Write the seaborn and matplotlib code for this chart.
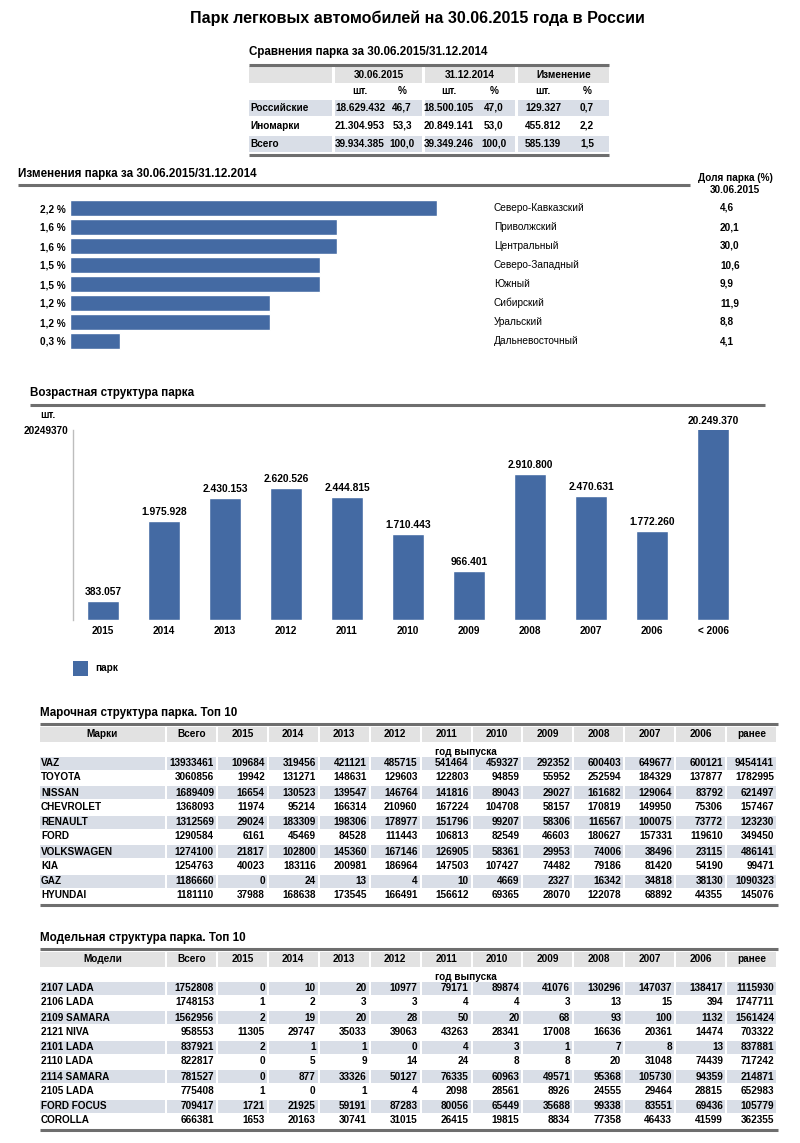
import matplotlib
matplotlib.use("Agg")
import matplotlib.pyplot as plt
import matplotlib.transforms as mtransforms
from matplotlib.patches import Rectangle
import pandas as pd
import seaborn as sns

# сравнение парка 30.06.2015 / 31.12.2014
cmp_rows = ["Российские", "Иномарки", "Всего"]
cmp_2015_cnt = [18629432, 21304953, 39934385]
cmp_2015_pct = [46.7, 53.3, 100.0]
cmp_2014_cnt = [18500105, 20849141, 39349246]
cmp_2014_pct = [47.0, 53.0, 100.0]
cmp_diff_cnt = [129327, 455812, 585139]
cmp_diff_pct = [0.7, 2.2, 1.5]

# изменения по округам
regions = ["Северо-Кавказский", "Приволжский", "Центральный", "Северо-Западный",
           "Южный", "Сибирский", "Уральский", "Дальневосточный"]
region_change = [2.2, 1.6, 1.6, 1.5, 1.5, 1.2, 1.2, 0.3]
region_share = [4.6, 20.1, 30.0, 10.6, 9.9, 11.9, 8.8, 4.1]

# возрастная структура
age_labels = ["2015", "2014", "2013", "2012", "2011", "2010", "2009",
              "2008", "2007", "2006", "< 2006"]
age_values = [383057, 1975928, 2430153, 2620526, 2444815, 1710443, 966401,
              2910800, 2470631, 1772260, 20249370]

table_cols = ["Всего", "2015", "2014", "2013", "2012", "2011", "2010",
              "2009", "2008", "2007", "2006", "ранее"]

brands = ["VAZ", "TOYOTA", "NISSAN", "CHEVROLET", "RENAULT", "FORD",
          "VOLKSWAGEN", "KIA", "GAZ", "HYUNDAI"]
brand_vals = [
    [13933461, 109684, 319456, 421121, 485715, 541464, 459327, 292352, 600403, 649677, 600121, 9454141],
    [3060856, 19942, 131271, 148631, 129603, 122803, 94859, 55952, 252594, 184329, 137877, 1782995],
    [1689409, 16654, 130523, 139547, 146764, 141816, 89043, 29027, 161682, 129064, 83792, 621497],
    [1368093, 11974, 95214, 166314, 210960, 167224, 104708, 58157, 170819, 149950, 75306, 157467],
    [1312569, 29024, 183309, 198306, 178977, 151796, 99207, 58306, 116567, 100075, 73772, 123230],
    [1290584, 6161, 45469, 84528, 111443, 106813, 82549, 46603, 180627, 157331, 119610, 349450],
    [1274100, 21817, 102800, 145360, 167146, 126905, 58361, 29953, 74006, 38496, 23115, 486141],
    [1254763, 40023, 183116, 200981, 186964, 147503, 107427, 74482, 79186, 81420, 54190, 99471],
    [1186660, 0, 24, 13, 4, 10, 4669, 2327, 16342, 34818, 38130, 1090323],
    [1181110, 37988, 168638, 173545, 166491, 156612, 69365, 28070, 122078, 68892, 44355, 145076],
]

models = ["2107 LADA", "2106 LADA", "2109 SAMARA", "2121 NIVA", "2101 LADA",
          "2110 LADA", "2114 SAMARA", "2105 LADA", "FORD FOCUS", "COROLLA"]
model_vals = [
    [1752808, 0, 10, 20, 10977, 79171, 89874, 41076, 130296, 147037, 138417, 1115930],
    [1748153, 1, 2, 3, 3, 4, 4, 3, 13, 15, 394, 1747711],
    [1562956, 2, 19, 20, 28, 50, 20, 68, 93, 100, 1132, 1561424],
    [958553, 11305, 29747, 35033, 39063, 43263, 28341, 17008, 16636, 20361, 14474, 703322],
    [837921, 2, 1, 1, 0, 4, 3, 1, 7, 8, 13, 837881],
    [822817, 0, 5, 9, 14, 24, 8, 8, 20, 31048, 74439, 717242],
    [781527, 0, 877, 33326, 50127, 76335, 60963, 49571, 95368, 105730, 94359, 214871],
    [775408, 1, 0, 1, 4, 2098, 28561, 8926, 24555, 29464, 28815, 652983],
    [709417, 1721, 21925, 59191, 87283, 80056, 65449, 35688, 99338, 83551, 69436, 105779],
    [666381, 1653, 20163, 30741, 31015, 26415, 19815, 8834, 77358, 46433, 41599, 362355],
]

BLUE = "#446aa3"
LINE = "#6e6e6e"
ROW_BG = "#d9dee7"
HEAD_BG = "#e2e2e2"
W, H = 800, 1143
SEC = 8.4  # размер заголовков разделов


def dots(v):
    return f"{v:,}".replace(",", ".")


def comma(v):
    return f"{v:.1f}".replace(".", ",")


sns.set_style("white")
plt.rcParams["font.family"] = ["Liberation Sans", "DejaVu Sans"]
plt.rcParams["text.color"] = "black"
plt.rcParams["xtick.color"] = "black"
plt.rcParams["ytick.color"] = "black"

fig = plt.figure(figsize=(W / 100, H / 100), dpi=100)
ov = fig.add_axes([0, 0, 1, 1])
ov.set_xlim(0, W)
ov.set_ylim(H, 0)
ov.axis("off")


def hline(x0, x1, y, lw=2.0, color=LINE):
    ov.plot([x0, x1], [y, y], color=color, lw=lw, solid_capstyle="butt")


def txt(x, y, s, size=7.2, weight="bold", ha="left", **kw):
    ov.text(x, y, s, fontsize=size, fontweight=weight, ha=ha, va="center", **kw)


# заголовок
txt(417, 18, "Парк легковых автомобилей на 30.06.2015 года в России", size=11.6, ha="center")

# таблица сравнения
txt(249, 52, "Сравнения парка за 30.06.2015/31.12.2014", size=SEC)
hline(249, 609, 64.5, lw=2.2)
cells = [(249, 332), (335, 422), (425, 515), (518, 609)]
for (x0, x1), lab in zip(cells, ["", "30.06.2015", "31.12.2014", "Изменение"]):
    ov.add_patch(Rectangle((x0, 66), x1 - x0, 17, color=HEAD_BG, lw=0))
    txt((x0 + x1) / 2, 74.5, lab, ha="center")
sub_x = [360, 402, 449, 494, 543, 587]
for x, lab in zip(sub_x, ["шт.", "%"] * 3):
    txt(x, 91, lab, ha="center")
row_y = [108, 126, 144]
for i, name in enumerate(cmp_rows):
    if i != 1:
        for x0, x1 in cells:
            ov.add_patch(Rectangle((x0, row_y[i] - 8), x1 - x0, 16, color=ROW_BG, lw=0))
    txt(250, row_y[i], name)
    vals = [dots(cmp_2015_cnt[i]), comma(cmp_2015_pct[i]), dots(cmp_2014_cnt[i]),
            comma(cmp_2014_pct[i]), dots(cmp_diff_cnt[i]), comma(cmp_diff_pct[i])]
    for x, s in zip(sub_x, vals):
        txt(x, row_y[i], s, ha="center")
hline(249, 609, 154.5, lw=2.2)

# изменения парка по округам
txt(18, 174, "Изменения парка за 30.06.2015/31.12.2014", size=SEC)
hline(18, 690, 184.5, lw=2.2)
txt(735, 178, "Доля парка (%)", ha="center")
txt(735, 190, "30.06.2015", ha="center")

ax1 = fig.add_axes([70 / W, 1 - 350.5 / H, 417 / W, 152 / H])
ax1.patch.set_alpha(0)
reg_df = pd.DataFrame({"region": regions, "change": region_change})
sns.barplot(data=reg_df, x="change", y="region", orient="h", color=BLUE,
            saturation=1, width=0.88, ax=ax1)
ax1.set_xlim(0, 2.5)
ax1.set_ylim(7.5, -0.5)
ax1.set_yticks(range(len(regions)))
ax1.set_yticklabels([comma(v) + " %" for v in region_change], fontsize=7.2, fontweight="bold")
ax1.tick_params(axis="y", length=0, pad=3)
ax1.set_xticks([])
ax1.set_xlabel("")
ax1.set_ylabel("")
sns.despine(ax=ax1, left=True, bottom=True)
tr = mtransforms.blended_transform_factory(ov.transData, ax1.transData)
for i, (name, share) in enumerate(zip(regions, region_share)):
    ax1.text(494, i, name, transform=tr, fontsize=7.3, va="center", clip_on=False)
    ax1.text(720, i, comma(share), transform=tr, fontsize=7.2, fontweight="bold",
             va="center", clip_on=False)

# возрастная структура
txt(30, 393, "Возрастная структура парка", size=SEC)
hline(30, 765, 404.5, lw=2.2)
txt(40, 415, "шт.")

ax2 = fig.add_axes([72.5 / W, 1 - 620 / H, 671 / W, 190 / H])
ax2.patch.set_alpha(0)
age_df = pd.DataFrame({"year": age_labels, "count": age_values})
sns.barplot(data=age_df, x="year", y="count", color=BLUE, saturation=1,
            width=0.54, ax=ax2)
ytop = 3.78e6
ax2.set_ylim(0, ytop)
ax2.set_xlim(-0.5, len(age_labels) - 0.5)
ax2.set_yticks([ytop])
ax2.set_yticklabels([str(max(age_values))], fontsize=7.2, fontweight="bold")
ax2.set_xticks(range(len(age_labels)))
ax2.set_xticklabels(age_labels, fontsize=7.2, fontweight="bold")
ax2.tick_params(length=0)
ax2.tick_params(axis="y", pad=3)
ax2.tick_params(axis="x", pad=4)
ax2.set_xlabel("")
ax2.set_ylabel("")
sns.despine(ax=ax2, bottom=True)
ax2.spines["left"].set_color("#bdbdbd")
ax2.spines["left"].set_linewidth(1)
for p, v in zip(ax2.patches, age_values):
    ax2.annotate(dots(v), (p.get_x() + p.get_width() / 2, min(v, ytop)),
                 xytext=(0, 3), textcoords="offset points", ha="center", va="bottom",
                 fontsize=7.4, fontweight="bold", annotation_clip=False)

ov.add_patch(Rectangle((73, 661), 15, 15, color=BLUE, lw=0))
txt(95, 668, "парк")

# таблицы марок и моделей
COLW = (778 - 167) / 12
edges = [(40, 165)] + [(167 + i * COLW, 167 + (i + 1) * COLW - 2) for i in range(12)]


def draw_table(top, title, head, names, rows):
    txt(40, top - 11, title, size=SEC)
    hline(40, 778, top, lw=2.2)
    for (x0, x1), lab in zip(edges, [head] + table_cols):
        ov.add_patch(Rectangle((x0, top + 2.5), x1 - x0, 15, color=HEAD_BG, lw=0))
        txt((x0 + x1) / 2, top + 10, lab, ha="center")
    txt(466, top + 28, "год выпуска", ha="center")
    for i, (name, vals) in enumerate(zip(names, rows)):
        y = top + 39 + (i // 2) * 29.6 + (i % 2) * 14
        if i % 2 == 0:
            for x0, x1 in edges:
                ov.add_patch(Rectangle((x0, y - 6.5), x1 - x0, 13, color=ROW_BG, lw=0))
        txt(41, y, name)
        for (x0, x1), v in zip(edges[1:], vals):
            txt(x1 - 2, y, str(v), ha="right")
    hline(40, 778, top + 181, lw=2.2)


draw_table(724, "Марочная структура парка. Топ 10", "Марки", brands, brand_vals)
draw_table(949, "Модельная структура парка. Топ 10", "Модели", models, model_vals)

fig.savefig("out.png", dpi=100, facecolor="white")
